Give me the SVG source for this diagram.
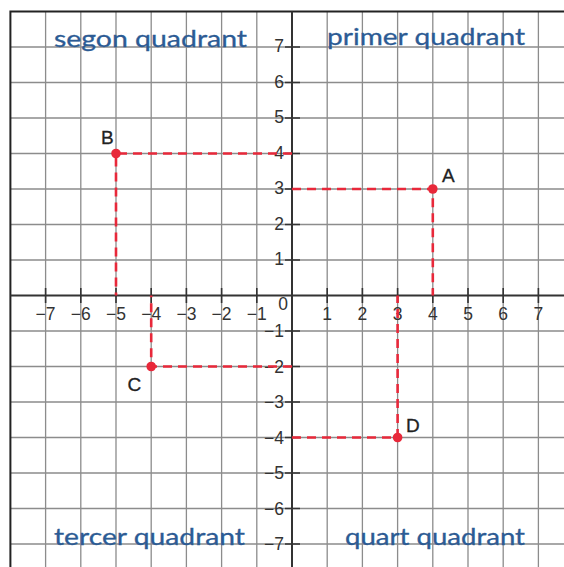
<svg xmlns="http://www.w3.org/2000/svg" width="564" height="567" viewBox="0 0 564 567">
<style>
.grid{stroke:#8c8c8c;stroke-width:1.3;fill:none}
.border{stroke:#222;stroke-width:2;fill:none}
.axis{stroke:#333;stroke-width:2;fill:none}
.tick{stroke:#333;stroke-width:1.6}
.num{font-family:"Liberation Sans",Arial,sans-serif;font-size:17.5px;fill:#333}
.ny{text-anchor:end}
.nx{text-anchor:middle}
.quad{font-family:Lato,"Noto Sans",sans-serif;font-size:23.5px;fill:#2c5b94;stroke:#2c5b94;stroke-width:0.3}
.dash{stroke:#e8283a;stroke-width:2.6;stroke-dasharray:9 6;fill:none}
.pt{fill:#e8283a}
.lbl{font-family:"Liberation Sans",Arial,sans-serif;font-size:19px;fill:#222;stroke:#222;stroke-width:0.3}
</style>
<rect width="564" height="567" fill="#fff"/>
<g id="grid" class="grid">
<path d="M45.6 11.5V567M80.8 11.5V567M116 11.5V567M151.2 11.5V567M186.4 11.5V567M221.6 11.5V567M256.8 11.5V567M327.2 11.5V567M362.4 11.5V567M397.6 11.5V567M432.8 11.5V567M468 11.5V567M503.2 11.5V567M538.4 11.5V567"/>
<path d="M10.4 47H564M10.4 82.5H564M10.4 118H564M10.4 153.5H564M10.4 189H564M10.4 224.5H564M10.4 260H564M10.4 331H564M10.4 366.5H564M10.4 402H564M10.4 437.5H564M10.4 473H564M10.4 508.5H564M10.4 544H564"/>
</g>
<path class="border" d="M10.4 567V11.5H564"/>
<g id="axes">
<path class="axis" d="M292 11.5V567M10.4 295.5H564"/>
<path class="tick" d="M45.6 288V303M80.8 288V303M116 288V303M151.2 288V303M186.4 288V303M221.6 288V303M256.8 288V303M327.2 288V303M362.4 288V303M397.6 288V303M432.8 288V303M468 288V303M503.2 288V303M538.4 288V303"/>
<path class="tick" d="M285 47H300M285 82.5H300M285 118H300M285 153.5H300M285 189H300M285 224.5H300M285 260H300M285 331H300M285 366.5H300M285 402H300M285 437.5H300M285 473H300M285 508.5H300M285 544H300"/>
</g>
<g id="y-labels" class="num ny">
<text x="284" y="52">7</text>
<text x="284" y="87.5">6</text>
<text x="284" y="123">5</text>
<text x="284" y="158.5">4</text>
<text x="284" y="194">3</text>
<text x="284" y="229.5">2</text>
<text x="284" y="265">1</text>
<text x="284" y="337">−1</text>
<text x="284" y="372.5">−2</text>
<text x="284" y="408">−3</text>
<text x="284" y="443.5">−4</text>
<text x="284" y="479">−5</text>
<text x="284" y="514.5">−6</text>
<text x="284" y="550">−7</text>
</g>
<g id="x-labels" class="num nx">
<text x="45.6" y="320">−7</text>
<text x="80.8" y="320">−6</text>
<text x="116" y="320">−5</text>
<text x="151.2" y="320">−4</text>
<text x="186.4" y="320">−3</text>
<text x="221.6" y="320">−2</text>
<text x="256.8" y="320">−1</text>
<text x="327.2" y="320">1</text>
<text x="362.4" y="320">2</text>
<text x="397.6" y="320">3</text>
<text x="432.8" y="320">4</text>
<text x="468" y="320">5</text>
<text x="503.2" y="320">6</text>
<text x="538.4" y="320">7</text>
<text x="288" y="310" text-anchor="end">0</text>
</g>
<g id="quadrants" class="quad">
<text x="54" y="47" textLength="193" lengthAdjust="spacingAndGlyphs">segon quadrant</text>
<text x="327" y="45" textLength="198" lengthAdjust="spacingAndGlyphs">primer quadrant</text>
<text x="54" y="545" textLength="191" lengthAdjust="spacingAndGlyphs">tercer quadrant</text>
<text x="345" y="545" textLength="180" lengthAdjust="spacingAndGlyphs">quart quadrant</text>
</g>
<g id="connectors">
<path class="dash" d="M292 189H432.8V295.5"/>
<path class="dash" d="M292 153.5H116V295.5"/>
<path class="dash" d="M292 366.5H151.2V295.5"/>
<path class="dash" d="M292 437.5H397.6V295.5"/>
</g>
<g id="point-A"><circle class="pt" cx="432.8" cy="189" r="4.8"/><text class="lbl" x="442" y="182">A</text></g>
<g id="point-B"><circle class="pt" cx="116" cy="153.5" r="4.8"/><text class="lbl" x="101" y="143.5">B</text></g>
<g id="point-C"><circle class="pt" cx="151.2" cy="366.5" r="4.8"/><text class="lbl" x="127.5" y="391">C</text></g>
<g id="point-D"><circle class="pt" cx="397.6" cy="437.5" r="4.8"/><text class="lbl" x="406" y="432">D</text></g>
</svg>
